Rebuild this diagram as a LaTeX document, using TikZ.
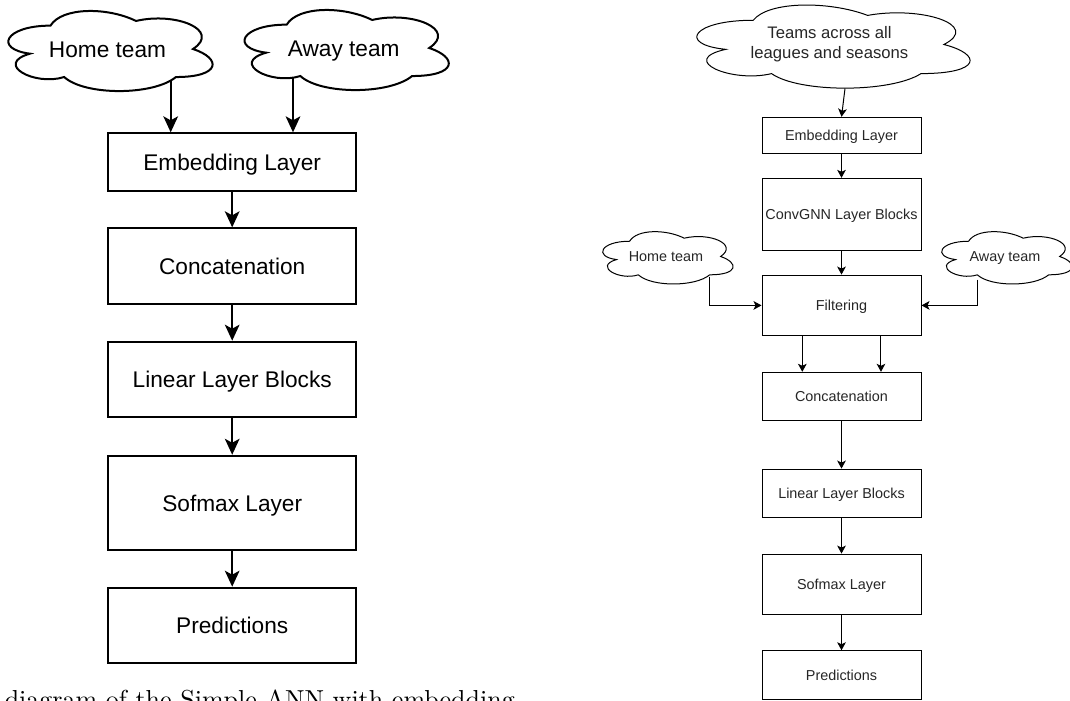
\documentclass[tikz,border=0pt]{standalone}
\usepackage{fontspec}
\newfontfamily\dio{Liberation Sans}
\newfontfamily\capfont{lmroman10-regular.otf}
\usetikzlibrary{arrows.meta}
\newcommand\cloudoutline[4]{% style, node, width, height
  \draw[#1, shift={(#2.north west)}, x=#3, y=-#4]
    (0.25,0.25) .. controls (0.05,0.25) and (0,0.5) .. (0.16,0.55)
    .. controls (0,0.66) and (0.18,0.9) .. (0.31,0.8)
    .. controls (0.4,1) and (0.7,1) .. (0.8,0.8)
    .. controls (1,0.8) and (1,0.6) .. (0.875,0.5)
    .. controls (1,0.3) and (0.8,0.1) .. (0.625,0.2)
    .. controls (0.5,0.05) and (0.3,0.05) .. (0.25,0.25) -- cycle;}
\begin{document}
\begin{tikzpicture}[x=0.75pt,y=-0.75pt,
  boxL/.style={draw, line width=1.5pt, inner sep=0pt, minimum width=185.8pt,
    font=\dio\fontsize{17}{20}\selectfont, text height=15.3pt, text depth=3.1pt},
  boxR/.style={draw, line width=0.75pt, inner sep=0pt, minimum width=119.25pt,
    font=\dio\fontsize{10.8}{13}\selectfont, text height=9.7pt, text depth=2pt, text=black!85},
  cloudL/.style={inner sep=0pt, outer sep=0pt, minimum width=171pt, minimum height=70.1pt,
    font=\dio\fontsize{17}{20}\selectfont, text height=15.3pt, text depth=3.1pt},
  cloudS/.style={inner sep=0pt, outer sep=0pt, minimum width=109.2pt, minimum height=45.8pt,
    font=\dio\fontsize{10.8}{13}\selectfont, text height=9.7pt, text depth=2pt, text=black!85},
  cloudT/.style={inner sep=0pt, outer sep=0pt, minimum width=228.75pt, minimum height=72.75pt,
    font=\dio\fontsize{12.5}{15}\selectfont, align=center, text=black!85},
  lineL/.style={line width=1.5pt, black},
  lineR/.style={line width=0.75pt, black},
  arrL/.style={lineL, -{Stealth[length=12pt, width=11pt, inset=3pt]}},
  arrR/.style={lineR, -{Stealth[length=6pt, width=6.5pt, inset=1.5pt]}}]
\useasboundingbox (0,0) rectangle (1070,700);
\clip (0,0) rectangle (1070,700);

% ---------- left diagram ----------
\node[cloudL] (homeL) at (107.5,49) {Home team};
\node[cloudL] (awayL) at (343.7,48) {Away team};
\cloudoutline{lineL}{homeL}{171pt}{70.1pt}
\cloudoutline{lineL}{awayL}{171pt}{70.1pt}

\node[boxL, minimum height=43pt]   (embL) at (232.2,162)   {Embedding Layer};
\node[boxL, minimum height=56.8pt] (catL) at (232.2,266.2) {Concatenation};
\node[boxL, minimum height=56.7pt] (linL) at (232.2,379.5) {Linear Layer Blocks};
\node[boxL, minimum height=70.7pt] (sofL) at (232.2,502.9) {Sofmax Layer};
\node[boxL, minimum height=56.7pt] (preL) at (232.2,625.5) {Predictions};

\coordinate (hLo) at (170.7,80.6);
\coordinate (aLo) at (293,77.7);
\draw[arrL] (hLo) -- (hLo |- embL.north);
\draw[arrL] (aLo) -- (aLo |- embL.north);
\draw[arrL] (embL) -- (catL);
\draw[arrL] (catL) -- (linL);
\draw[arrL] (linL) -- (sofL);
\draw[arrL] (sofL) -- (preL);

\node[anchor=base west, inner sep=0pt, font=\capfont\fontsize{19.5}{23}\selectfont] (cap) at (4.5,708)
  {diagram of the Simple ANN with embedding};

% ---------- right diagram ----------
\node[cloudT] (teams) at (829.5,44.5) {Teams across all\\leagues and seasons};
\cloudoutline{lineR}{teams}{228.75pt}{72.75pt}
\node[cloudS] (homeR) at (666,256.5) {Home team};
\node[cloudS] (awayR) at (1005,256.5) {Away team};
\cloudoutline{lineR}{homeR}{109.2pt}{45.8pt}
\cloudoutline{lineR}{awayR}{109.2pt}{45.8pt}

\node[boxR, minimum height=27pt]   (embR) at (841.5,135.3) {Embedding Layer};
\node[boxR, minimum height=53.8pt] (gnnR) at (841.5,214.2) {ConvGNN Layer Blocks};
\node[boxR, minimum height=45.5pt] (filR) at (841.5,305.4) {Filtering};
\node[boxR, minimum height=36.3pt] (catR) at (841.5,396.5) {Concatenation};
\node[boxR, minimum height=36.2pt] (linR) at (841.5,493.2) {Linear Layer Blocks};
\node[boxR, minimum height=45.2pt] (sofR) at (841.5,584.2) {Sofmax Layer};
\node[boxR, minimum height=36.2pt] (preR) at (841.5,674.9) {Predictions};

\coordinate (tRo) at (845,88.5);
\coordinate (hRo) at (709.3,276.7);
\coordinate (aRo) at (977.7,279.5);
\draw[arrR] (tRo) -- (embR.north);
\draw[arrR] (embR) -- (gnnR);
\draw[arrR] (gnnR) -- (filR);
\draw[arrR] (hRo) |- (filR.west);
\draw[arrR] (aRo) |- (filR.east);
\draw[arrR] ([xshift=-29.4pt]filR.south) -- ([xshift=-29.4pt]catR.north);
\draw[arrR] ([xshift=29.6pt]filR.south) -- ([xshift=29.6pt]catR.north);
\draw[arrR] (catR) -- (linR);
\draw[arrR] (linR) -- (sofR);
\draw[arrR] (sofR) -- (preR);
\end{tikzpicture}
\end{document}
